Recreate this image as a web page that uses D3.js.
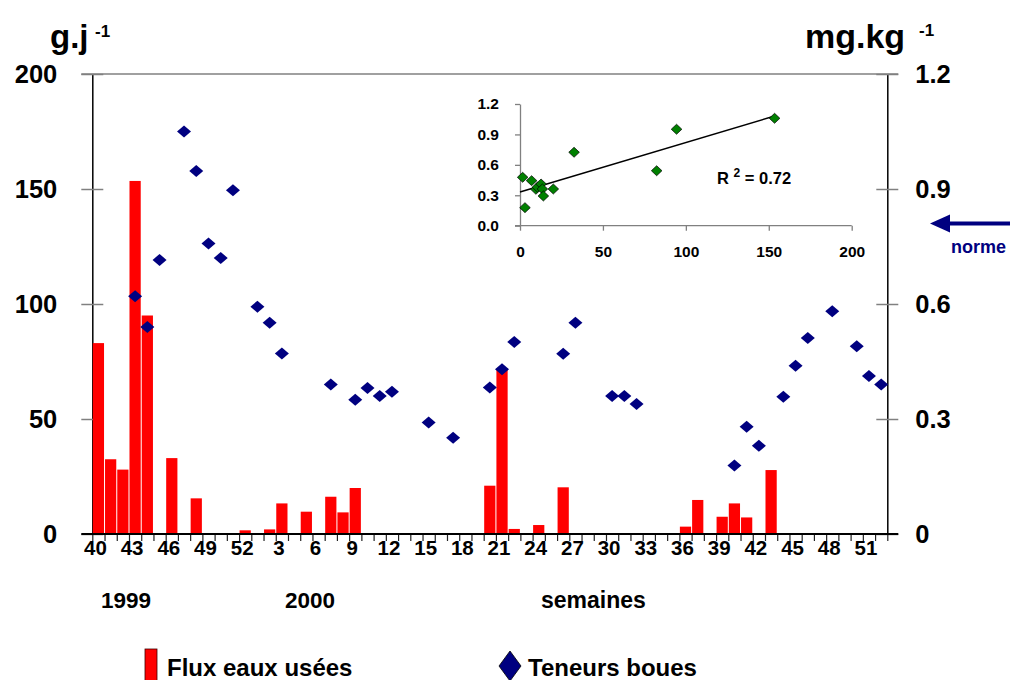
<!DOCTYPE html>
<html>
<head>
<meta charset="utf-8">
<script src="https://cdn.jsdelivr.net/npm/d3@7"></script>
<style>
  body { margin: 0; background: #fff; }
  svg { display: block; }
  text { font-family: "Liberation Sans", Arial, sans-serif; font-weight: bold; }
</style>
</head>
<body>
<div id="chart-container"></div>
<script>
'use strict';

// weeks 40-52 of 1999 then weeks 1-52 of 2000
const weeks = [40, 41, 42, 43, 44, 45, 46, 47, 48, 49, 50, 51, 52,
  1, 2, 3, 4, 5, 6, 7, 8, 9, 10, 11, 12, 13, 14, 15, 16, 17, 18, 19, 20,
  21, 22, 23, 24, 25, 26, 27, 28, 29, 30, 31, 32, 33, 34, 35, 36, 37, 38,
  39, 40, 41, 42, 43, 44, 45, 46, 47, 48, 49, 50, 51, 52];

// flux eaux usées (g/j)
const flux = [83, 32.5, 28, 153.5, 95, null, 33, null, 15.5, null, null, null, 1.6,
  null, 2, 13.3, null, 9.7, null, 16.2, 9.4, 20, null,
  null, null, null, null, null, null, null, null, null, 21,
  72, 2.2, null, 3.9, null, 20.3, null, null, null, null,
  null, null, null, null, null, 3.2, 14.8, null, 7.5, 13.3,
  7.2, null, 27.8, null, null, null, null, null, null, null, null, null];

// teneurs boues (mg/kg)
const teneurs = [null, null, null, 0.62, 0.54, 0.715, null, 1.05, 0.947, 0.758, 0.72, 0.897, null,
  0.593, 0.551, 0.471, null, null, null, 0.39, null, 0.35, 0.381,
  0.36, 0.371, null, null, 0.291, null, 0.251, null, null, 0.382,
  0.43, 0.501, null, null, null, 0.47, 0.551, null, null, 0.36,
  0.36, 0.339, null, null, null, null, null, null, null, 0.179,
  0.28, 0.23, null, 0.358, 0.439, 0.511, null, 0.581, null, 0.49, 0.412, 0.39];

const fluxTicks = [0, 50, 100, 150, 200];
const teneurTicks = [0, 0.3, 0.6, 0.9, 1.2];
const norme = 0.81;

// inset: teneur vs flux
const insetFlux = [1.6, 3.0, 7.0, 9.6, 10.5, 12.7, 13.5, 14.1, 20.1, 32.6, 82.4, 94.4, 153.5];
const insetTeneur = [0.477, 0.178, 0.444, 0.359, 0.38, 0.411, 0.362, 0.293, 0.362, 0.724, 0.542, 0.951, 1.059];
const insetXTicks = [0, 50, 100, 150, 200];
const insetYTicks = [0, 0.3, 0.6, 0.9, 1.2];
const r2 = '0.72';

const width = 1010;
const height = 680;
const plotLeft = 92.3, plotRight = 887.3, plotTop = 74, plotBottom = 534;

const svg = d3.select('#chart-container')
  .append('svg')
  .attr('width', width)
  .attr('height', height);

const x = d3.scaleBand()
  .domain(d3.range(weeks.length))
  .range([plotLeft, plotRight])
  .padding(0);
const xLin = d3.scaleLinear()
  .domain([0, weeks.length])
  .range([plotLeft, plotRight]);
const yL = d3.scaleLinear().domain([0, 200]).range([plotBottom, plotTop]);
const yR = d3.scaleLinear().domain([0, 1.2]).range([plotBottom, plotTop]);

// top border
svg.append('line')
  .attr('x1', plotLeft - 11).attr('x2', plotRight + 11)
  .attr('y1', plotTop).attr('y2', plotTop)
  .attr('stroke', '#808080').attr('stroke-width', 1.5);

// left axis
const gL = svg.append('g')
  .attr('transform', 'translate(' + plotLeft + ',0)')
  .call(d3.axisLeft(yL).tickValues(fluxTicks).tickSize(11).tickSizeOuter(0).tickPadding(24));
gL.select('.domain').attr('stroke', '#000').attr('stroke-width', 1.5);
gL.selectAll('.tick line').attr('x1', 11).attr('stroke', '#808080').attr('stroke-width', 1.5);
gL.attr('font-size', 25.5).attr('font-family', null);

// right axis
const gR = svg.append('g')
  .attr('transform', 'translate(' + plotRight + ',0)')
  .call(d3.axisRight(yR).tickValues(teneurTicks).tickSize(11).tickSizeOuter(0)
    .tickPadding(17).tickFormat(d => d === 0 ? '0' : d3.format('.1f')(d)));
gR.select('.domain').attr('stroke', '#000').attr('stroke-width', 1.5);
gR.selectAll('.tick line').attr('x1', -11).attr('stroke', '#808080').attr('stroke-width', 1.5);
gR.attr('font-size', 25.5).attr('font-family', null);

// bars
svg.append('g')
  .selectAll('rect')
  .data(flux.map((v, i) => ({ i: i, v: v })).filter(d => d.v !== null))
  .enter()
  .append('rect')
  .attr('x', d => x(d.i) + 0.5)
  .attr('width', x.bandwidth() - 1)
  .attr('y', d => yL(d.v))
  .attr('height', d => yL(0) - yL(d.v))
  .attr('fill', '#ff0000');

// x axis: ticks on week boundaries, labels every 3 weeks
const gX = svg.append('g')
  .attr('transform', 'translate(0,' + plotBottom + ')')
  .call(d3.axisBottom(xLin).tickValues(d3.range(weeks.length + 1)).tickSize(7)
    .tickSizeOuter(0).tickFormat(''));
gX.select('.domain').remove();
gX.selectAll('.tick line').attr('stroke', '#222').attr('stroke-width', 1.2);
svg.append('line')
  .attr('x1', plotLeft - 11).attr('x2', plotRight + 11)
  .attr('y1', plotBottom).attr('y2', plotBottom)
  .attr('stroke', '#000').attr('stroke-width', 2);

const gXl = svg.append('g')
  .attr('transform', 'translate(0,' + plotBottom + ')')
  .call(d3.axisBottom(x).tickValues(d3.range(0, weeks.length, 3)).tickSize(0)
    .tickPadding(6).tickFormat(i => weeks[i]));
gXl.select('.domain').remove();
gXl.attr('font-size', 20.5).attr('font-family', null);
gXl.selectAll('text').attr('dx', -3).attr('fill', '#000');

// diamonds
const diamond = 'M0,-6L7,0L0,6L-7,0Z';
svg.append('g')
  .selectAll('path')
  .data(teneurs.map((v, i) => ({ i: i, v: v })).filter(d => d.v !== null))
  .enter()
  .append('path')
  .attr('d', diamond)
  .attr('transform', d => 'translate(' + (x(d.i) + x.bandwidth() / 2) + ',' + yR(d.v) + ')')
  .attr('fill', '#000080');

// unit titles
svg.append('text').attr('x', 50).attr('y', 48).attr('font-size', 33).text('g.j');
svg.append('text').attr('x', 95).attr('y', 37).attr('font-size', 17).text('-1');
svg.append('text').attr('x', 805).attr('y', 48).attr('font-size', 34).text('mg.kg');
svg.append('text').attr('x', 919).attr('y', 36).attr('font-size', 17).text('-1');

// year / axis labels
svg.append('text').attr('x', 101).attr('y', 608).attr('font-size', 22.5).text('1999');
svg.append('text').attr('x', 285).attr('y', 608).attr('font-size', 22.5).text('2000');
svg.append('text').attr('x', 541).attr('y', 608).attr('font-size', 23).text('semaines');

// norme arrow
const yN = yR(norme);
svg.append('line')
  .attr('x1', 946).attr('x2', 1012)
  .attr('y1', yN).attr('y2', yN)
  .attr('stroke', '#000080').attr('stroke-width', 4);
svg.append('path')
  .attr('d', 'M930,' + yN + 'L950,' + (yN - 9) + 'L950,' + (yN + 9) + 'Z')
  .attr('fill', '#000080');
svg.append('text').attr('x', 951).attr('y', yN + 29).attr('font-size', 18)
  .attr('fill', '#000080').text('norme');

// legend
svg.append('rect')
  .attr('x', 145).attr('y', 649).attr('width', 12).attr('height', 32)
  .attr('fill', '#ff0000').attr('stroke', '#400000').attr('stroke-width', 0.8);
svg.append('text').attr('x', 167).attr('y', 676).attr('font-size', 24).text('Flux eaux usées');
svg.append('path')
  .attr('d', 'M0,-15L11,0L0,15L-11,0Z')
  .attr('transform', 'translate(510,666)')
  .attr('fill', '#000080').attr('stroke', '#000').attr('stroke-width', 0.8);
svg.append('text').attr('x', 528).attr('y', 676).attr('font-size', 24).text('Teneurs boues');

// ---- inset scatter ----
const xI = d3.scaleLinear().domain([0, 200]).range([520, 851.7]);
const yI = d3.scaleLinear().domain([0, 1.2]).range([225.7, 104]);

const gIy = svg.append('g')
  .attr('transform', 'translate(520,0)')
  .call(d3.axisLeft(yI).tickValues(insetYTicks).tickSize(5).tickSizeOuter(0)
    .tickPadding(16).tickFormat(d3.format('.1f')));
gIy.attr('font-size', 15.5).attr('font-family', null);
gIy.selectAll('.domain, .tick line').attr('stroke', '#808080').attr('stroke-width', 1.3);

const gIx = svg.append('g')
  .attr('transform', 'translate(0,225.7)')
  .call(d3.axisBottom(xI).tickValues(insetXTicks).tickSize(5).tickSizeOuter(0).tickPadding(15));
gIx.attr('font-size', 15.5).attr('font-family', null);
gIx.selectAll('.domain, .tick line').attr('stroke', '#808080').attr('stroke-width', 1.3);
gIx.select('.domain').attr('d', 'M515,0H851.7');

// linear regression
const mx = d3.mean(insetFlux), my = d3.mean(insetTeneur);
const sxy = d3.sum(insetFlux, (v, i) => (v - mx) * (insetTeneur[i] - my));
const sxx = d3.sum(insetFlux, v => (v - mx) * (v - mx));
const slope = sxy / sxx, icpt = my - slope * mx;
const xMax = d3.max(insetFlux);
svg.append('line')
  .attr('x1', xI(0)).attr('y1', yI(icpt))
  .attr('x2', xI(xMax)).attr('y2', yI(icpt + slope * xMax))
  .attr('stroke', '#000').attr('stroke-width', 1.5);

svg.append('g')
  .selectAll('path')
  .data(insetFlux.map((v, i) => [v, insetTeneur[i]]))
  .enter()
  .append('path')
  .attr('d', 'M0,-5L5.3,0L0,5L-5.3,0Z')
  .attr('transform', d => 'translate(' + xI(d[0]) + ',' + yI(d[1]) + ')')
  .attr('fill', '#008000').attr('stroke', '#000').attr('stroke-width', 0.7);

const r2Text = svg.append('text').attr('x', 717).attr('y', 184).attr('font-size', 16.5);
r2Text.append('tspan').text('R ');
r2Text.append('tspan').attr('font-size', 12).attr('dy', -7).text('2');
r2Text.append('tspan').attr('dy', 7).text(' = ' + r2);
</script>
</body>
</html>
